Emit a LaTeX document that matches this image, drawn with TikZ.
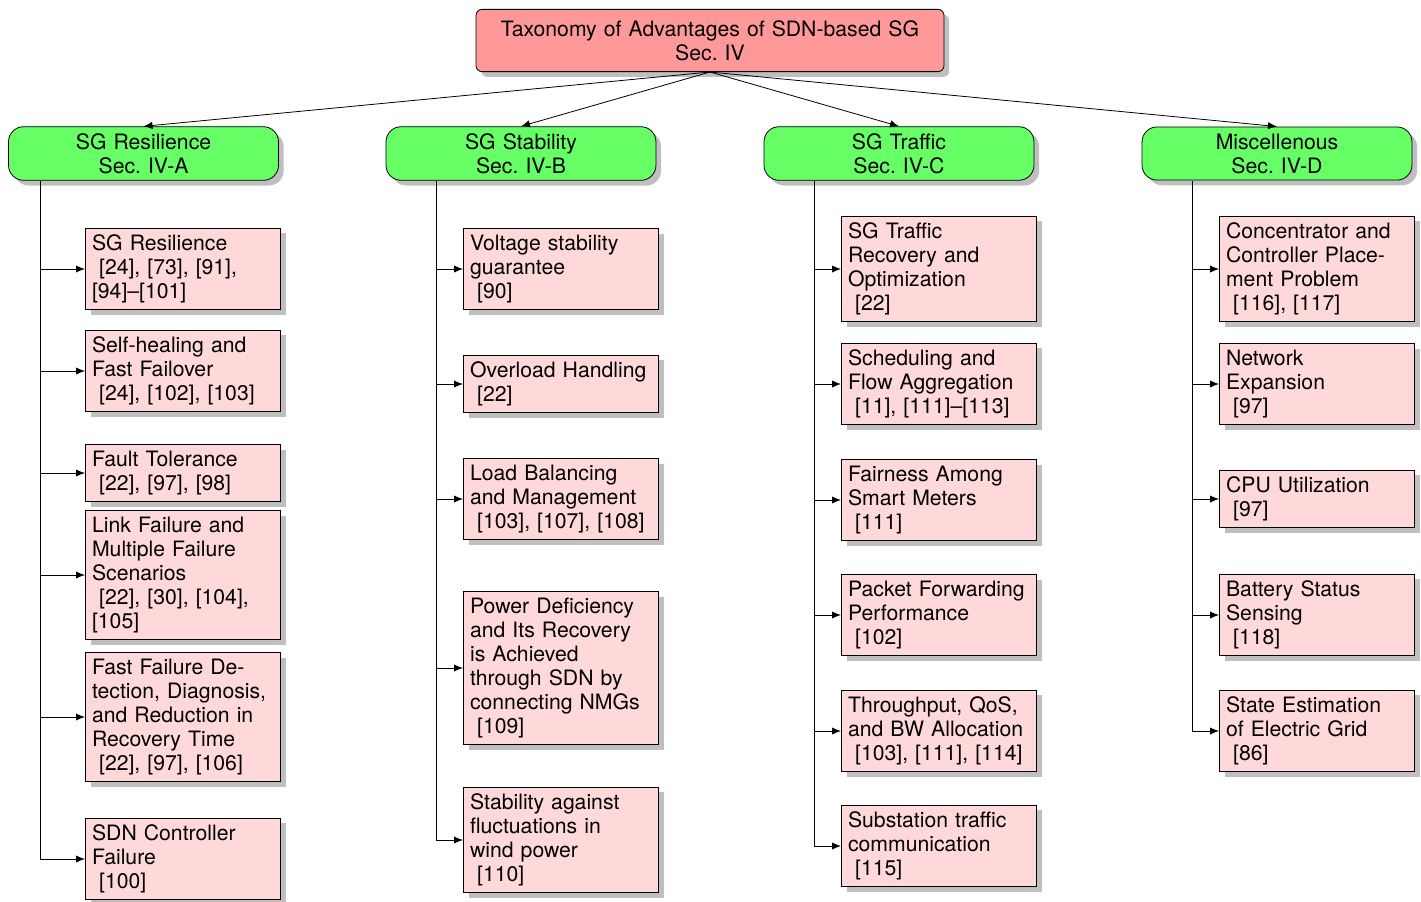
\documentclass[tikz,border=0pt]{standalone}
\usepackage{fontspec}
\setmainfont{TeX Gyre Heros}
\usetikzlibrary{shadows, arrows.meta}
\begin{document}
\begin{tikzpicture}[x=0.5pt, y=-0.5pt, >={Latex[length=4.5pt,width=3.6pt]},
  every node/.style={font=\fontsize{10.6}{12}\selectfont},
  root/.style={rectangle, draw, fill=red!40, rounded corners=3pt, drop shadow,
    text width=222pt, align=center, inner xsep=6pt, inner ysep=5.5pt},
  sec/.style={rectangle, draw, fill=green!60, rounded corners=7.5pt, drop shadow,
    text width=128.3pt, align=center},
  leaf/.style={rectangle, draw, fill=red!15, drop shadow, anchor=west,
    text width=90.8pt, align=left}]
\useasboundingbox (0,0) rectangle (1421,901);
\node [root] (top) at (710,40.5) {Taxonomy of Advantages of SDN-based SG\\Sec.\ IV};
\node [sec] (res) at (143.5,153.5) {SG Resilience\\Sec.\ IV-A};
\node [sec] (stab) at (521,153.5) {SG Stability\\Sec.\ IV-B};
\node [sec] (traf) at (899,153.5) {SG Traffic\\Sec.\ IV-C};
\node [sec] (misc) at (1277,153.5) {Miscellenous\\Sec.\ IV-D};
\draw [->] (top.south) -- (res.north);
\draw [->] (top.south) -- (stab.north);
\draw [->] (top.south) -- (traf.north);
\draw [->] (top.south) -- (misc.north);
% SG resilience
\coordinate (resl) at (40,181);
\node [leaf] (r1) at (85,269) {SG Resilience\\\ [24], [73], [91],\\{}[94]--[101]};
\node [leaf] (r2) at (85,371) {Self-healing and\\Fast Failover\\\ [24], [102], [103]};
\node [leaf] (r3) at (85,473) {Fault Tolerance\\\ [22], [97], [98]};
\node [leaf] (r4) at (85,575) {Link Failure and\\Multiple Failure\\Scenarios\\\ [22], [30], [104],\\{}[105]};
\node [leaf] (r5) at (85,717) {Fast Failure De-\\tection, Diagnosis,\\and Reduction in\\Recovery Time\\\ [22], [97], [106]};
\node [leaf] (r6) at (85,859) {SDN Controller\\Failure\\\ [100]};
\draw [->] (resl) |- (r1.west);
\draw [->] (resl) |- (r2.west);
\draw [->] (resl) |- (r3.west);
\draw [->] (resl) |- (r4.west);
\draw [->] (resl) |- (r5.west);
\draw [->] (resl) |- (r6.west);
% SG stability
\coordinate (stabl) at (436,181);
\node [leaf] (s1) at (463,269) {Voltage stability\\guarantee\\\ [90]};
\node [leaf] (s2) at (463,384) {Overload Handling\\\ [22]};
\node [leaf] (s3) at (463,499) {Load Balancing\\and Management\\\ [103], [107], [108]};
\node [leaf] (s4) at (463,668) {Power Deficiency\\and Its Recovery\\is Achieved\\through SDN by\\connecting NMGs\\\ [109]};
\node [leaf] (s5) at (463,840) {Stability against\\fluctuations in\\wind power\\\ [110]};
\draw [->] (stabl) |- (s1.west);
\draw [->] (stabl) |- (s2.west);
\draw [->] (stabl) |- (s3.west);
\draw [->] (stabl) |- (s4.west);
\draw [->] (stabl) |- (s5.west);
% SG traffic
\coordinate (trafl) at (814,181);
\node [leaf] (t1) at (841,269) {SG Traffic\\Recovery and\\Optimization\\\ [22]};
\node [leaf] (t2) at (841,384) {Scheduling and\\Flow Aggregation\\\ [11], [111]--[113]};
\node [leaf] (t3) at (841,500) {Fairness Among\\Smart Meters\\\ [111]};
\node [leaf] (t4) at (841,615) {Packet Forwarding\\Performance\\\ [102]};
\node [leaf] (t5) at (841,731) {Throughput, QoS,\\and BW Allocation\\\ [103], [111], [114]};
\node [leaf] (t6) at (841,846) {Substation traffic\\communication\\\ [115]};
\draw [->] (trafl) |- (t1.west);
\draw [->] (trafl) |- (t2.west);
\draw [->] (trafl) |- (t3.west);
\draw [->] (trafl) |- (t4.west);
\draw [->] (trafl) |- (t5.west);
\draw [->] (trafl) |- (t6.west);
% miscellenous
\coordinate (miscl) at (1192,181);
\node [leaf] (m1) at (1219,269) {Concentrator and\\Controller Place-\\ment Problem\\\ [116], [117]};
\node [leaf] (m2) at (1219,384) {Network\\Expansion\\\ [97]};
\node [leaf] (m3) at (1219,499) {CPU Utilization\\\ [97]};
\node [leaf] (m4) at (1219,615) {Battery Status\\Sensing\\\ [118]};
\node [leaf] (m5) at (1219,731) {State Estimation\\of Electric Grid\\\ [86]};
\draw [->] (miscl) |- (m1.west);
\draw [->] (miscl) |- (m2.west);
\draw [->] (miscl) |- (m3.west);
\draw [->] (miscl) |- (m4.west);
\draw [->] (miscl) |- (m5.west);
\end{tikzpicture}
\end{document}
